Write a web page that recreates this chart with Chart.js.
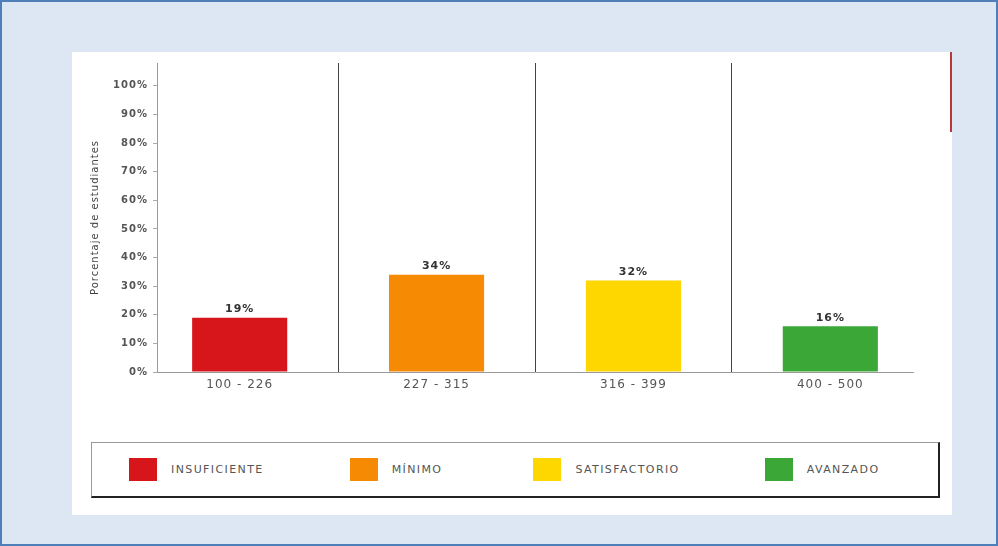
<!DOCTYPE html>
<html>
<head>
<meta charset="utf-8">
<script src="https://cdn.jsdelivr.net/npm/chart.js@4"></script>
<style>
  html, body { margin: 0; padding: 0; }
  body { width: 998px; height: 546px; overflow: hidden; font-family: "DejaVu Sans", sans-serif; }
  .frame { position: absolute; left: 0; top: 0; width: 998px; height: 546px; box-sizing: border-box;
           background: #dde7f3; border: 2px solid #4f7fb8; }
  .panel { position: absolute; left: 72px; top: 52px; width: 880px; height: 463px; background: #fff; }
  .redmark { position: absolute; left: 950px; top: 52px; width: 2px; height: 80px; background: #b8383a; }
  .chart-box { position: absolute; left: 0; top: 0; width: 880px; height: 352px; }
  .legend { position: absolute; left: 19px; top: 390px; width: 849px; height: 56px; box-sizing: border-box;
            border-top: 1px solid #999; border-left: 1px solid #999;
            border-right: 2px solid #222; border-bottom: 2px solid #222;
            display: flex; align-items: center; padding-left: 37px; }
  .legend .item { display: flex; align-items: center; }
  .legend .sw { width: 28px; height: 23px; margin-right: 14px; }
  .legend .tx { font-size: 11px; letter-spacing: 1.4px; color: #555; }
</style>
</head>
<body>
<div class="frame"></div>
<div class="panel">
  <div class="chart-box"><canvas id="chart"></canvas></div>
  <div class="legend" id="legend"></div>
</div>
<div class="redmark"></div>
<script>
const rangos = ['100 - 226', '227 - 315', '316 - 399', '400 - 500'];
const porcentajes = [19, 34, 32, 16];
const niveles = ['INSUFICIENTE', 'MÍNIMO', 'SATISFACTORIO', 'AVANZADO'];
const colores = ['#d7161b', '#f68a03', '#fed600', '#3aa737'];
const yTicks = [0, 10, 20, 30, 40, 50, 60, 70, 80, 90, 100];

// leyenda en HTML
const legend = document.getElementById('legend');
const gaps = [86, 91, 85, 0];
niveles.forEach((n, i) => {
    const it = document.createElement('div');
    it.className = 'item';
    it.style.marginRight = gaps[i] + 'px';
    it.innerHTML = '<div class="sw" style="background:' + colores[i] + '"></div><span class="tx">' + n + '</span>';
    legend.appendChild(it);
});

const spacing = {
    id: 'spacing',
    beforeDraw(chart) { chart.ctx.letterSpacing = '1px'; }
};

const valueLabels = {
    id: 'valueLabels',
    afterDatasetsDraw(chart) {
        const ctx = chart.ctx;
        const meta = chart.getDatasetMeta(0);
        ctx.save();
        ctx.font = 'bold 11px "DejaVu Sans"';
        ctx.fillStyle = '#333';
        ctx.textAlign = 'center';
        ctx.textBaseline = 'bottom';
        meta.data.forEach((bar, i) => {
            ctx.fillText(porcentajes[i] + '%', bar.x, bar.y - 3);
        });
        ctx.restore();
    }
};

new Chart(document.getElementById('chart'), {
    type: 'bar',
    data: {
        datasets: [{
            data: porcentajes.map((v, i) => ({ x: i, y: v })),
            backgroundColor: colores,
            borderWidth: 0,
            barPercentage: 0.966,
            categoryPercentage: 1
        }]
    },
    options: {
        responsive: true,
        maintainAspectRatio: false,
        animation: false,
        layout: { padding: { top: 8, right: 39, left: 0, bottom: 0 } },
        plugins: { legend: { display: false }, tooltip: { enabled: false } },
        scales: {
            x: {
                type: 'linear',
                offset: false,
                min: -0.42,
                max: 3.42,
                afterBuildTicks: s => { s.ticks = [0, 0.5, 1, 1.5, 2, 2.5, 3].map(v => ({ value: v })); },
                afterFit: s => { s.height = 32; },
                grid: {
                    offset: false,
                    drawTicks: false,
                    color: c => (c.tick && c.tick.value % 1 === 0.5) ? '#444' : 'rgba(0,0,0,0)'
                },
                border: { color: '#9a9a9a' },
                ticks: {
                    padding: 6,
                    autoSkip: false,
                    maxRotation: 0,
                    color: '#555',
                    font: { family: 'DejaVu Sans', size: 12 },
                    callback: v => Number.isInteger(v) ? rangos[v] : ''
                }
            },
            y: {
                min: 0,
                max: 108,
                afterBuildTicks: s => { s.ticks = yTicks.map(v => ({ value: v })); },
                afterFit: s => { s.width = 85; },
                grid: { drawOnChartArea: false, tickLength: 4, color: '#aaa' },
                border: { color: '#9a9a9a' },
                ticks: {
                    padding: 5,
                    color: '#555',
                    font: { family: 'DejaVu Sans', size: 10, weight: 'bold' },
                    callback: v => v + '%'
                },
                title: {
                    display: true,
                    text: 'Porcentaje de estudiantes',
                    color: '#444',
                    padding: { top: 17, bottom: 0 },
                    font: { family: 'DejaVu Sans', size: 10 }
                }
            }
        }
    },
    plugins: [spacing, valueLabels]
});
</script>
</body>
</html>
